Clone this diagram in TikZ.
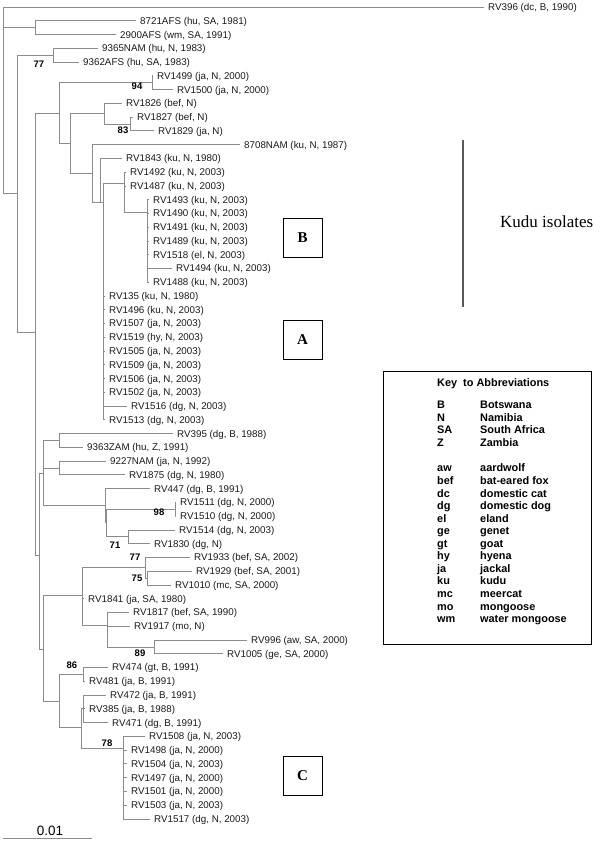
\documentclass[tikz,border=0pt]{standalone}
\usepackage{fontspec}
\setmainfont{Liberation Sans}
\newfontfamily\kuduserif{Liberation Serif}
\usetikzlibrary{positioning}

\tikzset{
  branch/.style={draw=black!45, line width=0.7pt},
  leaf/.style={anchor=west, inner xsep=4pt, inner ysep=0pt, text height=7pt, text depth=0pt, font=\fontsize{9.8}{11}\selectfont, text=black!90},
  boot/.style={inner sep=0pt, font=\fontsize{9.5}{11}\selectfont\bfseries},
  keytext/.style={anchor=west, inner sep=0pt, text height=7.8pt, text depth=0pt, font=\fontsize{10.9}{12}\selectfont\bfseries},
  cladebox/.style={draw, line width=0.9pt, minimum width=39pt, minimum height=39pt, inner sep=0pt, font=\kuduserif\fontsize{15}{15}\selectfont\bfseries},
}

\begin{document}
\begin{tikzpicture}[x=1pt,y=-1pt]
\useasboundingbox (0,0) rectangle (600,850);
% internal nodes of the tree
\coordinate (root) at (3,100);
\coordinate (nafs) at (35,27.6);
\coordinate (ntwo) at (17,193);
\coordinate (n77a) at (53,55.2);
\coordinate (nfour) at (35,332);
\coordinate (nfive) at (59,113);
\coordinate (n94) at (152,82.7);
\coordinate (nseven) at (70,143);
\coordinate (neight) at (104,113.7);
\coordinate (n83) at (130,124);
\coordinate (nnine) at (92,173);
\coordinate (nkzero) at (100,202);
\coordinate (nkone) at (103,202);
\coordinate (nktwo) at (124,183);
\coordinate (nkthree) at (147,212);
\coordinate (nq) at (39,555);
\coordinate (np) at (43,473);
\coordinate (ncone) at (59,440.4);
\coordinate (nctwo) at (59,468);
\coordinate (no) at (105,505);
\coordinate (ni) at (106,522);
\coordinate (n98) at (175,509);
\coordinate (n71) at (128,536.8);
\coordinate (nt) at (43,649);
\coordinate (nu) at (82,595);
\coordinate (n77b) at (145,567);
\coordinate (n75) at (147,578);
\coordinate (nx) at (107,625);
\coordinate (n89) at (154,647);
\coordinate (nv) at (59,701);
\coordinate (n86) at (83,674.4);
\coordinate (nvtwo) at (81,727);
\coordinate (ncthree) at (83,708);
\coordinate (n78) at (123,748);

% leaves
\node[leaf] (rv396) at (484,7.0) {RV396 (dc, B, 1990)};
\node[leaf] (afs8721) at (136,20.76) {8721AFS (hu, SA, 1981)};
\node[leaf] (afs2900) at (116,34.52) {2900AFS (wm, SA, 1991)};
\node[leaf] (nam9365) at (98,48.28) {9365NAM (hu, N, 1983)};
\node[leaf] (afs9362) at (79,62.04) {9362AFS (hu, SA, 1983)};
\node[leaf] (rv1499) at (153,75.8) {RV1499 (ja, N, 2000)};
\node[leaf] (rv1500) at (173,89.56) {RV1500 (ja, N, 2000)};
\node[leaf] (rv1826) at (122,103.32) {RV1826 (bef, N)};
\node[leaf] (rv1827) at (133,117.08) {RV1827 (bef, N)};
\node[leaf] (rv1829) at (154,130.84) {RV1829 (ja, N)};
\node[leaf] (nam8708) at (240,144.6) {8708NAM (ku, N, 1987)};
\node[leaf] (rv1843) at (122,158.36) {RV1843 (ku, N, 1980)};
\node[leaf] (rv1492) at (126,172.12) {RV1492 (ku, N, 2003)};
\node[leaf] (rv1487) at (126,185.88) {RV1487 (ku, N, 2003)};
\node[leaf] (rv1493) at (149,199.64) {RV1493 (ku, N, 2003)};
\node[leaf] (rv1490) at (149,213.4) {RV1490 (ku, N, 2003)};
\node[leaf] (rv1491) at (149,227.16) {RV1491 (ku, N, 2003)};
\node[leaf] (rv1489) at (149,240.92) {RV1489 (ku, N, 2003)};
\node[leaf] (rv1518) at (149,254.68) {RV1518 (el, N, 2003)};
\node[leaf] (rv1494) at (172,268.44) {RV1494 (ku, N, 2003)};
\node[leaf] (rv1488) at (149,282.2) {RV1488 (ku, N, 2003)};
\node[leaf] (rv135) at (105,295.96) {RV135 (ku, N, 1980)};
\node[leaf] (rv1496) at (105,309.72) {RV1496 (ku, N, 2003)};
\node[leaf] (rv1507) at (105,323.48) {RV1507 (ja, N, 2003)};
\node[leaf] (rv1519) at (105,337.24) {RV1519 (hy, N, 2003)};
\node[leaf] (rv1505) at (105,351.0) {RV1505 (ja, N, 2003)};
\node[leaf] (rv1509) at (105,364.76) {RV1509 (ja, N, 2003)};
\node[leaf] (rv1506) at (105,378.52) {RV1506 (ja, N, 2003)};
\node[leaf] (rv1502) at (105,392.28) {RV1502 (ja, N, 2003)};
\node[leaf] (rv1516) at (127,406.04) {RV1516 (dg, N, 2003)};
\node[leaf] (rv1513) at (105,419.8) {RV1513 (dg, N, 2003)};
\node[leaf] (rv395) at (173,433.56) {RV395 (dg, B, 1988)};
\node[leaf] (zam9363) at (83,447.32) {9363ZAM (hu, Z, 1991)};
\node[leaf] (nam9227) at (106,461.08) {9227NAM (ja, N, 1992)};
\node[leaf] (rv1875) at (125,474.84) {RV1875 (dg, N, 1980)};
\node[leaf] (rv447) at (150,488.6) {RV447 (dg, B, 1991)};
\node[leaf] (rv1511) at (176,502.36) {RV1511 (dg, N, 2000)};
\node[leaf] (rv1510) at (176,516.12) {RV1510 (dg, N, 2000)};
\node[leaf] (rv1514) at (175,529.88) {RV1514 (dg, N, 2003)};
\node[leaf] (rv1830) at (150,543.64) {RV1830 (dg, N)};
\node[leaf] (rv1933) at (190,557.4) {RV1933 (bef, SA, 2002)};
\node[leaf] (rv1929) at (192,571.16) {RV1929 (bef, SA, 2001)};
\node[leaf] (rv1010) at (171,584.92) {RV1010 (mc, SA, 2000)};
\node[leaf] (rv1841) at (84,598.68) {RV1841 (ja, SA, 1980)};
\node[leaf] (rv1817) at (129,612.44) {RV1817 (bef, SA, 1990)};
\node[leaf] (rv1917) at (130,626.2) {RV1917 (mo, N)};
\node[leaf] (rv996) at (247,639.96) {RV996 (aw, SA, 2000)};
\node[leaf] (rv1005) at (223,653.72) {RV1005 (ge, SA, 2000)};
\node[leaf] (rv474) at (108,667.48) {RV474 (gt, B, 1991)};
\node[leaf] (rv481) at (85,681.24) {RV481 (ja, B, 1991)};
\node[leaf] (rv472) at (106,695.0) {RV472 (ja, B, 1991)};
\node[leaf] (rv385) at (85,708.76) {RV385 (ja, B, 1988)};
\node[leaf] (rv471) at (108,722.52) {RV471 (dg, B, 1991)};
\node[leaf] (rv1508) at (145,736.28) {RV1508 (ja, N, 2003)};
\node[leaf] (rv1498) at (127,750.04) {RV1498 (ja, N, 2000)};
\node[leaf] (rv1504) at (127,763.8) {RV1504 (ja, N, 2003)};
\node[leaf] (rv1497) at (127,777.56) {RV1497 (ja, N, 2000)};
\node[leaf] (rv1501) at (127,791.32) {RV1501 (ja, N, 2000)};
\node[leaf] (rv1503) at (127,805.08) {RV1503 (ja, N, 2003)};
\node[leaf] (rv1517) at (150,818.84) {RV1517 (dg, N, 2003)};

% branches, top part
\draw[branch] (root) |- (rv396.west) (root) |- (nafs) (root) |- (ntwo);
\draw[branch] (nafs) |- (afs8721.west) (nafs) |- (afs2900.west);
\draw[branch] (ntwo) |- (n77a) (ntwo) |- (nfour);
\draw[branch] (n77a) |- (nam9365.west) (n77a) |- (afs9362.west);
\draw[branch] (nfour) |- (nfive) (nfour) |- (nq);
\draw[branch] (nfive) |- (n94) (nfive) |- (nseven);
\draw[branch] (n94) |- (rv1499.west) (n94) |- (rv1500.west);
\draw[branch] (nseven) |- (neight) (nseven) |- (nnine);
\draw[branch] (neight) |- (rv1826.west) (neight) |- (n83);
\draw[branch] (n83) |- (rv1827.west) (n83) |- (rv1829.west);
\draw[branch] (nnine) |- (nam8708.west) (nnine) |- (nkzero);
\draw[branch] (nkzero) |- (rv1843.west) (nkzero) -- (nkone);
\draw[branch] (nkone) |- (nktwo) (nkone) |- (rv135.west) (nkone) |- (rv1496.west)
  (nkone) |- (rv1507.west) (nkone) |- (rv1519.west) (nkone) |- (rv1505.west)
  (nkone) |- (rv1509.west) (nkone) |- (rv1506.west) (nkone) |- (rv1502.west)
  (nkone) |- (rv1516.west) (nkone) |- (rv1513.west);
\draw[branch] (nktwo) |- (rv1492.west) (nktwo) |- (rv1487.west) (nktwo) |- (nkthree);
\draw[branch] (nkthree) |- (rv1493.west) (nkthree) |- (rv1490.west) (nkthree) |- (rv1491.west)
  (nkthree) |- (rv1489.west) (nkthree) |- (rv1518.west) (nkthree) |- (rv1494.west)
  (nkthree) |- (rv1488.west);
% branches, bottom part
\draw[branch] (nq) |- (np) (nq) |- (nt);
\draw[branch] (np) |- (ncone) (np) |- (nctwo) (np) |- (no);
\draw[branch] (ncone) |- (rv395.west) (ncone) |- (zam9363.west);
\draw[branch] (nctwo) |- (nam9227.west) (nctwo) |- (rv1875.west);
\draw[branch] (no) |- (rv447.west) (no) |- (ni);
\draw[branch] (ni) |- (n98) (ni) |- (n71);
\draw[branch] (n98) |- (rv1511.west) (n98) |- (rv1510.west);
\draw[branch] (n71) |- (rv1514.west) (n71) |- (rv1830.west);
\draw[branch] (nt) |- (nu) (nt) |- (nv);
\draw[branch] (nu) |- (n77b) (nu) |- (rv1841.west) (nu) |- (nx);
\draw[branch] (n77b) |- (rv1933.west) (n77b) |- (n75);
\draw[branch] (n75) |- (rv1929.west) (n75) |- (rv1010.west);
\draw[branch] (nx) |- (rv1817.west) (nx) |- (rv1917.west) (nx) |- (n89);
\draw[branch] (n89) |- (rv996.west) (n89) |- (rv1005.west);
\draw[branch] (nv) |- (n86) (nv) |- (nvtwo);
\draw[branch] (n86) |- (rv474.west) (n86) |- (rv481.west);
\draw[branch] (nvtwo) |- (ncthree) (nvtwo) |- (n78);
\draw[branch] (ncthree) |- (rv472.west) (ncthree) |- (rv385.west) (ncthree) |- (rv471.west);
\draw[branch] (n78) |- (rv1508.west) (n78) |- (rv1498.west) (n78) |- (rv1504.west)
  (n78) |- (rv1497.west) (n78) |- (rv1501.west) (n78) |- (rv1503.west)
  (n78) |- (rv1517.west);

% bootstrap values
\node[boot] (b77a) at (39,64) {77};
\node[boot] (b94) at (137,86) {94};
\node[boot] (b83) at (123,130) {83};
\node[boot] (b98) at (159,512) {98};
\node[boot] (b71) at (115,545) {71};
\node[boot] (b77b) at (135,557) {77};
\node[boot] (b75) at (137,578) {75};
\node[boot] (b89) at (140,653) {89};
\node[boot] (b86) at (72,665) {86};
\node[boot] (b78) at (107,743) {78};

% clade boxes and kudu bar
\node[cladebox] (boxB) at (302.5,237.5) {B};
\node[cladebox] (boxA) at (302.5,340) {A};
\node[cladebox] (boxC) at (302.5,776) {C};
\coordinate (kudutop) at (463,140);
\coordinate (kudubot) at (463,307);
\draw[black!65, line width=1.5pt] (kudutop) -- (kudubot);
\node[anchor=west, inner sep=0pt, font=\kuduserif\fontsize{17}{17}\selectfont] (kudu) at (500,222) {Kudu isolates};

% key
\draw[line width=0.8pt] (383,371) rectangle (591,644);
\node[keytext] (keytitle) at (437,383) {Key\ \ to Abbreviations};
\node[keytext] (kB) at (437,404.3) {B};        \node[keytext] (kBn) at (480,404.3) {Botswana};
\node[keytext] (kN) at (437,417.3) {N};        \node[keytext] (kNn) at (480,417.3) {Namibia};
\node[keytext] (kSA) at (437,430) {SA};        \node[keytext] (kSAn) at (480,430) {South Africa};
\node[keytext] (kZ) at (437,442.3) {Z};        \node[keytext] (kZn) at (480,442.3) {Zambia};
\node[keytext] (kaw) at (437,467.7) {aw};      \node[keytext] (kawn) at (480,467.7) {aardwolf};
\node[keytext] (kbef) at (437,480.7) {bef};    \node[keytext] (kbefn) at (480,480.7) {bat-eared fox};
\node[keytext] (kdc) at (437,493.3) {dc};      \node[keytext] (kdcn) at (480,493.3) {domestic cat};
\node[keytext] (kdg) at (437,506) {dg};        \node[keytext] (kdgn) at (480,506) {domestic dog};
\node[keytext] (kel) at (437,518.3) {el};      \node[keytext] (keln) at (480,518.3) {eland};
\node[keytext] (kge) at (437,531) {ge};        \node[keytext] (kgen) at (480,531) {genet};
\node[keytext] (kgt) at (437,543.3) {gt};      \node[keytext] (kgtn) at (480,543.3) {goat};
\node[keytext] (khy) at (437,556) {hy};        \node[keytext] (khyn) at (480,556) {hyena};
\node[keytext] (kja) at (437,568.7) {ja};      \node[keytext] (kjan) at (480,568.7) {jackal};
\node[keytext] (kku) at (437,581) {ku};        \node[keytext] (kkun) at (480,581) {kudu};
\node[keytext] (kmc) at (437,593.3) {mc};      \node[keytext] (kmcn) at (480,593.3) {meercat};
\node[keytext] (kmo) at (437,606.7) {mo};      \node[keytext] (kmon) at (480,606.7) {mongoose};
\node[keytext] (kwm) at (437,618.7) {wm};      \node[keytext] (kwmn) at (480,618.7) {water mongoose};

% scale bar
\coordinate (scaleL) at (3,838);
\coordinate (scaleR) at (92,838);
\draw[branch] (scaleL) -- (scaleR);
\node[inner sep=0pt, font=\fontsize{13.5}{14}\selectfont] (scale) at (50,831) {0.01};
\end{tikzpicture}
\end{document}
